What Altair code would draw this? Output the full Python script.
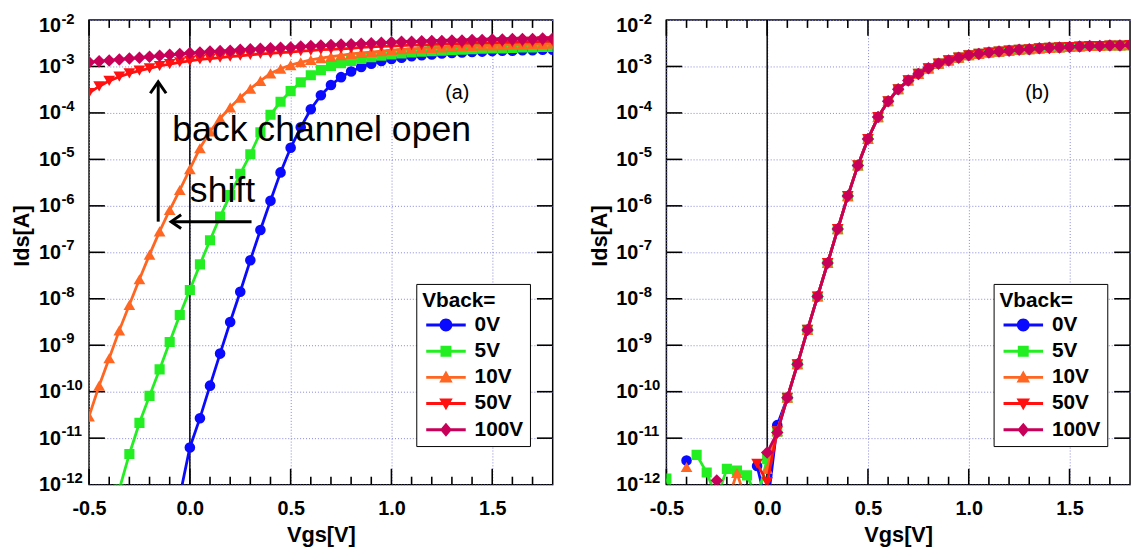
import altair as alt
import pandas as pd

# ---------------- data (log10 of Ids) ----------------
VGS = [-0.50, -0.45, -0.40, -0.35, -0.30, -0.25, -0.20, -0.15, -0.10, -0.05,
       0.00, 0.05, 0.10, 0.15, 0.20, 0.25, 0.30, 0.35, 0.40, 0.45,
       0.50, 0.55, 0.60, 0.65, 0.70, 0.75, 0.80, 0.85, 0.90, 0.95,
       1.00, 1.05, 1.10, 1.15, 1.20, 1.25, 1.30, 1.35, 1.40, 1.45,
       1.50, 1.55, 1.60, 1.65, 1.70, 1.75, 1.80]

SERIES = ["0V", "5V", "10V", "50V", "100V"]
COLORS = ["#0a0aff", "#22ee22", "#ff6622", "#ff1111", "#c8005a"]
MARKERS = ["circle", "square", "triangle-up", "triangle-down", "diamond"]
MARKER_SIZES = [115, 105, 140, 140, 160]

# panel (a)
A_0V = [None, None, None, None, None, None, None, None, None, -12.25,
        -11.20, -10.57, -9.87, -9.18, -8.50, -7.85, -7.17, -6.52, -5.89, -5.28,
        -4.75, -4.31, -3.92, -3.62, -3.40, -3.23, -3.11, -3.01, -2.94, -2.88,
        -2.84, -2.81, -2.78, -2.76, -2.74, -2.72, -2.71, -2.70, -2.69, -2.68,
        -2.67, -2.66, -2.66, -2.65, -2.65, -2.64, -2.64]
A_5V = [None, None, None, -12.10, -11.34, -10.67, -10.09, -9.52, -8.93, -8.35,
        -7.81, -7.26, -6.74, -6.23, -5.77, -5.31, -4.89, -4.42, -4.04, -3.76,
        -3.53, -3.34, -3.19, -3.08, -2.99, -2.93, -2.88, -2.84, -2.80, -2.77,
        -2.74, -2.72, -2.70, -2.68, -2.67, -2.66, -2.65, -2.64, -2.63, -2.62,
        -2.61, -2.61, -2.60, -2.59, -2.59, -2.58, -2.58]
A_10V = [-10.53, -9.87, -9.28, -8.68, -8.13, -7.58, -7.05, -6.55, -6.09, -5.66,
         -5.21, -4.76, -4.40, -4.12, -3.88, -3.67, -3.48, -3.31, -3.15, -3.05,
         -2.97, -2.91, -2.86, -2.82, -2.79, -2.76, -2.73, -2.71, -2.69, -2.67,
         -2.65, -2.63, -2.62, -2.61, -2.60, -2.59, -2.58, -2.57, -2.56, -2.55,
         -2.55, -2.54, -2.53, -2.53, -2.52, -2.52, -2.51]
A_50V = [-3.57, -3.43, -3.31, -3.22, -3.15, -3.09, -3.04, -2.99, -2.95, -2.91,
         -2.88, -2.85, -2.83, -2.81, -2.79, -2.77, -2.75, -2.73, -2.72, -2.70,
         -2.69, -2.67, -2.66, -2.64, -2.63, -2.62, -2.61, -2.59, -2.58, -2.57,
         -2.56, -2.55, -2.54, -2.54, -2.53, -2.52, -2.51, -2.51, -2.50, -2.49,
         -2.49, -2.48, -2.48, -2.47, -2.47, -2.46, -2.46]
A_100V = [-2.91, -2.89, -2.87, -2.85, -2.83, -2.81, -2.79, -2.77, -2.75, -2.73,
          -2.71, -2.70, -2.68, -2.67, -2.66, -2.64, -2.63, -2.62, -2.61, -2.60,
          -2.59, -2.57, -2.56, -2.55, -2.54, -2.53, -2.52, -2.51, -2.50, -2.49,
          -2.48, -2.47, -2.47, -2.46, -2.45, -2.45, -2.44, -2.44, -2.43, -2.43,
          -2.42, -2.42, -2.41, -2.41, -2.41, -2.40, -2.40]

# panel (b): low-Vgs noise (Vgs -0.50 .. 0.05) and the common on-curve (0.10 .. 1.80)
B_ON = [-10.13, -9.41, -8.67, -7.95, -7.23, -6.50, -5.79, -5.13, -4.56, -4.09,
        -3.75, -3.49, -3.30, -3.16, -3.04, -2.94, -2.87, -2.81, -2.76, -2.73,
        -2.70, -2.68, -2.66, -2.64, -2.63, -2.61, -2.60, -2.59, -2.58, -2.57,
        -2.56, -2.56, -2.55, -2.55, -2.54]
B_0V = [None, None, -11.48, None, None, None, None, None, None, -11.60, -12.50, -10.72] + B_ON
B_5V = [-11.87, -12.30, None, -11.36, -11.74, -12.30, -11.66, -11.70, -11.80, -12.30, -11.45, -10.86] + B_ON
B_10V = [None, None, -11.62, None, None, None, -12.40, -11.75, -12.40, None, -11.66, -10.85] + B_ON
B_50V = [None, None, None, None, None, None, None, None, None, -11.55, -11.95, -10.85] + B_ON
B_100V = [None, None, None, None, -12.40, -11.91, -12.40, None, None, None, -11.31, -10.88] + B_ON

for lst in (A_0V, A_5V, A_10V, A_50V, A_100V, B_0V, B_5V, B_10V, B_50V, B_100V):
    assert len(lst) == len(VGS), len(lst)

# axes / ticks
X_DOMAIN = [-0.5, 1.8]
Y_DOMAIN_LOG = [-12, -2]
X_LABELS = [-0.5, 0.0, 0.5, 1.0, 1.5]
X_MINOR = [-0.4, -0.3, -0.2, -0.1, 0.1, 0.2, 0.3, 0.4, 0.6, 0.7, 0.8, 0.9,
           1.1, 1.2, 1.3, 1.4, 1.6, 1.7]
Y_DECADES = [1e-2, 1e-3, 1e-4, 1e-5, 1e-6, 1e-7, 1e-8, 1e-9, 1e-10, 1e-11, 1e-12]
Y_EXP = ["-2", "-3", "-4", "-5", "-6", "-7", "-8", "-9", "-10", "-11", "-12"]

# annotations (data units: Vgs, log10 Ids)
TEXT_NOTES = [("back channel open", -0.087, -4.60), ("shift", 0.0, -5.915)]
ARROW_SHAFTS = [(-0.157, -0.157, -6.34, -3.36), (0.306, -0.088, -6.34, -6.34)]
ARROW_UP_TIP = (-0.157, -3.33)
ARROW_LEFT_TIP = (-0.093, -6.34)
PANEL_TAGS = [("(a)", 1.327, -3.574), ("(b)", 1.340, -3.574)]

# ---------------- styling ----------------
W, H = 469, 470
TICK_MAJOR, TICK_MINOR = 16, 8          # tick lengths in px
GRID = "#8585dc"
FONT = "Liberation Sans"
CHEVRON = "M-1,1.45L0,0L1,1.45"
LINE_PART = "M-0.99,-0.23H5.16V0.23H-0.99Z "
LEGEND_PATHS = [
    LINE_PART + "M1.08,0A1,1 0 1,1 3.08,0A1,1 0 1,1 1.08,0Z",
    LINE_PART + "M1.23,-0.85H2.93V0.85H1.23Z",
    LINE_PART + "M2.08,-1.05L3.13,0.8H1.03Z",
    LINE_PART + "M2.08,1.05L1.03,-0.8H3.13Z",
    LINE_PART + "M2.08,-1.1L3.0,0L2.08,1.1L1.16,0Z",
]

x_scale = alt.Scale(domain=X_DOMAIN, nice=False, zero=False)
y_scale = alt.Scale(type="log", domain=[10.0 ** Y_DOMAIN_LOG[0], 10.0 ** Y_DOMAIN_LOG[1]], nice=False)
PX_X = (X_DOMAIN[1] - X_DOMAIN[0]) / W                  # Vgs per px
PX_Y = (Y_DOMAIN_LOG[1] - Y_DOMAIN_LOG[0]) / H          # decades per px

x_axis = alt.Axis(values=X_LABELS, labelExpr="replace(format(datum.value, '.1f'), '\u2212', '-')",
                  title="Vgs[V]", labelFontSize=20,
                  labelFontWeight="bold", titleFontSize=22, titleFontWeight="bold",
                  ticks=False, tickSize=0, domain=False, grid=True, gridColor=GRID,
                  gridDash=[1, 2], gridWidth=1, labelPadding=14, titlePadding=7,
                  labelFlush=False, labelOverlap=False, labelColor="black", titleColor="black")
y_axis = alt.Axis(values=Y_DECADES, labelExpr="'10'", title="Ids[A]", labelFontSize=20,
                  labelFontWeight="bold", titleFontSize=22, titleFontWeight="bold",
                  ticks=False, tickSize=0, domain=False, grid=True, gridColor=GRID,
                  gridDash=[1, 2], gridWidth=1, labelPadding=29, labelOverlap=False,
                  labelFlush=False, titleX=-56, titleY=218, labelColor="black", titleColor="black",
                  labelOffset={"condition": {"test": "datum.value > 0.005", "value": 6}, "value": 0})


def X(field="vgs"):
    return alt.X(field + ":Q", scale=x_scale, axis=x_axis)


def Y(field="ids"):
    return alt.Y(field + ":Q", scale=y_scale, axis=y_axis)


def tick_segments():
    """Inward frame ticks as segments in data units (built from the tick lists)."""
    lo, hi = Y_DOMAIN_LOG
    rows = []
    for xs, ln in ((X_LABELS, TICK_MAJOR), (X_MINOR, TICK_MINOR)):
        for v in xs:
            rows.append((v, v, 10.0 ** lo, 10.0 ** (lo + ln * PX_Y)))
            rows.append((v, v, 10.0 ** hi, 10.0 ** (hi - ln * PX_Y)))
    for d in Y_DECADES[1:-1]:
        rows.append((X_DOMAIN[0], X_DOMAIN[0] + TICK_MAJOR * PX_X, d, d))
        rows.append((X_DOMAIN[1] - TICK_MAJOR * PX_X, X_DOMAIN[1], d, d))
    return pd.DataFrame(rows, columns=["vgs", "vgs2", "ids", "ids2"])


def make_panel(lists, tag, extra=()):
    layers = []
    layers.append(alt.Chart(tick_segments()).mark_rule(color="black", strokeWidth=1.6).encode(
        x=X(), x2="vgs2:Q", y=Y(), y2="ids2:Q"))
    layers.append(alt.Chart(pd.DataFrame({"vgs": [0.0]})).mark_rule(color="black", strokeWidth=1.5)
                  .encode(x=X()))
    # series
    for name, color, shape, size, vals in zip(SERIES, COLORS, MARKERS, MARKER_SIZES, lists):
        df = pd.DataFrame({"vgs": VGS, "ids": [None if v is None else 10.0 ** v for v in vals]})
        layers.append(alt.Chart(df).mark_line(color=color, strokeWidth=2.8, clip=True)
                      .encode(x=X(), y=Y()))
        layers.append(alt.Chart(df).mark_point(shape=shape, filled=True, color=color, size=size,
                                               opacity=1, clip=True).encode(x=X(), y=Y()))
    layers.extend(extra)
    # exponent part of y tick labels
    exp_df = pd.DataFrame({"ids": Y_DECADES, "lab": Y_EXP})
    layers.append(alt.Chart(exp_df.iloc[1:]).mark_text(align="left", baseline="middle", fontSize=15,
                                                     fontWeight="bold", dy=-7, color="black").encode(
        y=Y(), x=alt.value(-28), text="lab:N"))
    layers.append(alt.Chart(exp_df.iloc[:1]).mark_text(align="left", baseline="middle", fontSize=15,
                                                     fontWeight="bold", dy=-1, color="black").encode(
        y=Y(), x=alt.value(-28), text="lab:N"))
    # panel tag
    t, tx, ty = tag
    layers.append(alt.Chart(pd.DataFrame({"vgs": [tx], "ids": [10.0 ** ty], "t": [t]})).mark_text(
        fontSize=20, align="center", baseline="middle", color="black").encode(
        x=X(), y=Y(), text="t:N"))
    # legend carrier (invisible marks, custom line+marker symbols)
    leg = alt.Legend(title="Vback=", orient="none", legendX=331, legendY=267)
    layers.append(alt.Chart(pd.DataFrame({"series": SERIES})).mark_point(filled=True, opacity=0).encode(
        color=alt.Color("series:N", scale=alt.Scale(domain=SERIES, range=COLORS), legend=leg),
        shape=alt.Shape("series:N", scale=alt.Scale(domain=SERIES, range=LEGEND_PATHS), legend=leg)))
    return alt.layer(*layers).properties(width=W, height=H)


# annotations of panel (a)
notes = pd.DataFrame({"vgs": [n[1] for n in TEXT_NOTES], "ids": [10.0 ** n[2] for n in TEXT_NOTES],
                      "t": [n[0] for n in TEXT_NOTES]})
shafts = pd.DataFrame({"vgs": [s[0] for s in ARROW_SHAFTS], "vgs2": [s[1] for s in ARROW_SHAFTS],
                       "ids": [10.0 ** s[2] for s in ARROW_SHAFTS], "ids2": [10.0 ** s[3] for s in ARROW_SHAFTS]})
ann = [
    alt.Chart(notes).mark_text(fontSize=36, align="left", baseline="alphabetic", color="black").encode(
        x=X(), y=Y(), text="t:N"),
    alt.Chart(shafts).mark_rule(color="black", strokeWidth=3).encode(
        x=X(), x2="vgs2:Q", y=Y(), y2="ids2:Q"),
    alt.Chart(pd.DataFrame({"vgs": [ARROW_UP_TIP[0]], "ids": [10.0 ** ARROW_UP_TIP[1]]})).mark_point(
        shape=CHEVRON, filled=False, color="black", strokeWidth=3, size=256, opacity=1,
        strokeJoin="miter").encode(x=X(), y=Y()),
    alt.Chart(pd.DataFrame({"vgs": [ARROW_LEFT_TIP[0]], "ids": [10.0 ** ARROW_LEFT_TIP[1]]})).mark_point(
        shape=CHEVRON, filled=False, color="black", strokeWidth=3, size=196, opacity=1, angle=270,
        strokeJoin="miter").encode(x=X(), y=Y()),
]

panel_a = make_panel([A_0V, A_5V, A_10V, A_50V, A_100V], PANEL_TAGS[0], ann)
panel_b = make_panel([B_0V, B_5V, B_10V, B_50V, B_100V], PANEL_TAGS[1])

chart = (
    alt.hconcat(panel_a, panel_b, spacing=33)
    .resolve_scale(color="independent", shape="independent")
    .resolve_legend(color="independent", shape="independent")
    .properties(padding={"left": 2, "top": 0, "right": 0, "bottom": 0})
    .configure(font=FONT)
    .configure_view(stroke="black", strokeWidth=1.5)
    .configure_legend(titleFontSize=21, titleFontWeight="bold", labelFontSize=21,
                      labelFontWeight="bold", symbolSize=169, symbolStrokeWidth=0,
                      symbolOpacity=1, labelOffset=32, padding=6, strokeColor="black",
                      fillColor="white", rowPadding=4.5, titlePadding=4, titleColor="black",
                      labelColor="black")
)

chart.save("out.html", embed_options={"renderer": "svg", "actions": False})
